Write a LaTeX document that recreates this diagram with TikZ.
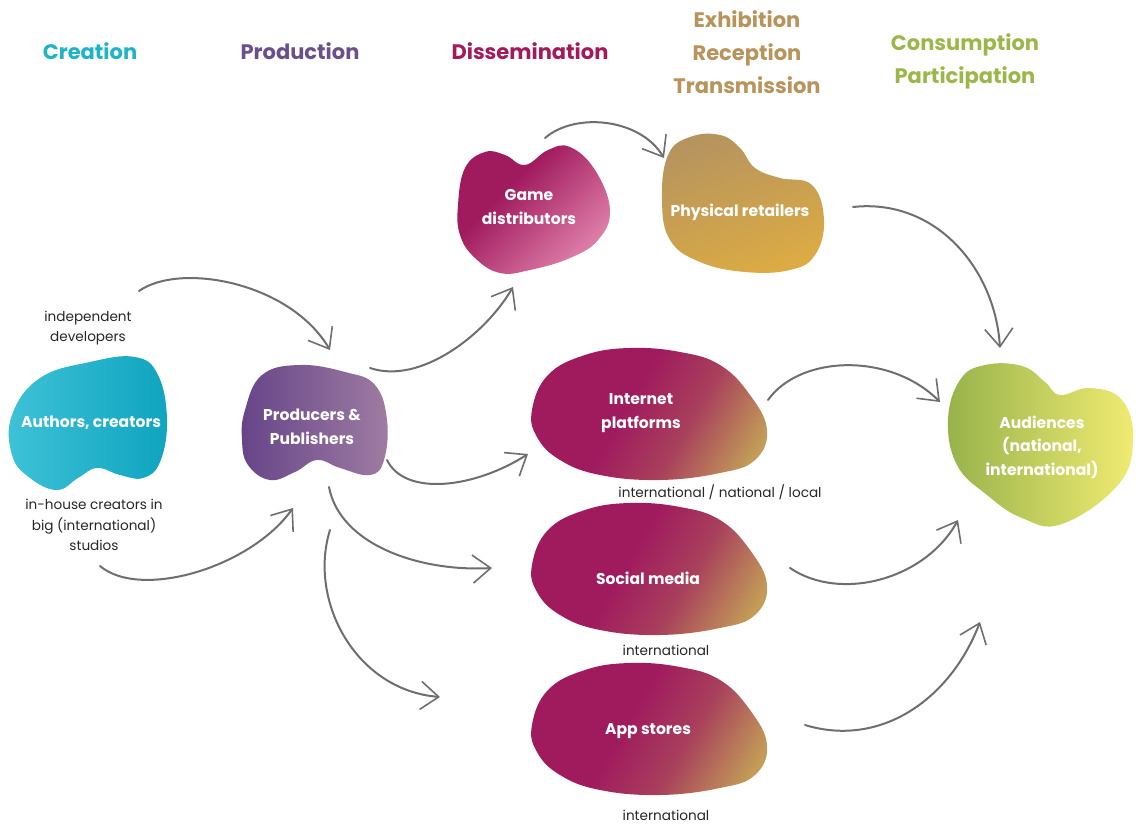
\documentclass[tikz,border=0pt]{standalone}
\usepackage{fontspec}
\setmainfont{Poppins}
\usetikzlibrary{arrows.meta}
\definecolor{cteal}{HTML}{1FB3C8}
\definecolor{cpurple}{HTML}{6B4E8C}
\definecolor{cmag}{HTML}{A3195B}
\definecolor{ctan}{HTML}{B8935A}
\definecolor{cgreen}{HTML}{9AB84A}
\definecolor{arrowgrey}{HTML}{6E6E6E}
\definecolor{tealA}{HTML}{3EC2D8}
\definecolor{tealB}{HTML}{0FA4BF}
\definecolor{purA}{HTML}{674488}
\definecolor{purB}{HTML}{9E7CA2}
\definecolor{magA}{HTML}{A01A5E}
\definecolor{magM}{HTML}{A8405C}
\definecolor{magB}{HTML}{C29C58}
\definecolor{pinkB}{HTML}{DC7BA6}
\definecolor{goldA}{HTML}{B6945E}
\definecolor{goldB}{HTML}{DCAB44}
\definecolor{grnA}{HTML}{97B34B}
\definecolor{grnB}{HTML}{F0EB72}
\pgfdeclareverticalshading{magshade}{100bp}{color(0bp)=(magB); color(22bp)=(magB); color(40bp)=(magM); color(56bp)=(magA); color(100bp)=(magA)}
\pgfdeclareverticalshading{pinkshade}{100bp}{color(0bp)=(pinkB); color(28bp)=(pinkB); color(62bp)=(magA); color(100bp)=(magA)}
\tikzset{
  header/.style={font=\fontsize{10.5}{16.5}\selectfont\bfseries, align=center},
  blobtext/.style={text=white, font=\fontsize{7.8}{11.75}\selectfont\bfseries, align=center},
  smalllabel/.style={text=black!85, font=\fontsize{6.8}{10.2}\selectfont, align=center},
  flow/.style={draw=arrowgrey, line width=1pt, line cap=round, line join=round,
    -{Straight Barb[length=9pt,width=14pt,line width=0.8pt]}},
  blobline/.style={smooth cycle, tension=0.7}
}
\begin{document}
\begin{tikzpicture}[x=0.5pt,y=-0.5pt]
\useasboundingbox (0,0) rectangle (1146,828);

% headers
\node[header, text=cteal] (hcre) at (90,51) {Creation};
\node[header, text=cpurple] (hpro) at (300,51) {Production};
\node[header, text=cmag] (hdis) at (530,51) {Dissemination};
\node[header, text=ctan] (hexh) at (747,52) {Exhibition\\Reception\\Transmission};
\node[header, text=cgreen] (hcon) at (965,61) {Consumption\\Participation};

% blobs
\shade[left color=tealA, right color=tealB] plot[blobline] coordinates {
 (12,415) (40,378) (90,362) (135,357) (158,375) (167,420) (160,462) (143,478)
 (120,475) (97,468) (78,478) (57,490) (30,478) (12,455)};
\shade[left color=purA, right color=purB] plot[blobline] coordinates {
 (245,410) (262,375) (300,365) (345,372) (375,385) (387,420) (384,460) (370,475)
 (340,468) (317,460) (295,472) (270,480) (248,465) (242,440)};
\shade[shading=pinkshade, shading angle=45] plot[blobline] coordinates {
 (458,205) (465,168) (485,152) (505,155) (525,165) (548,150) (570,147) (595,170)
 (610,210) (598,240) (570,258) (530,270) (500,273) (475,258) (460,235)};
\shade[top color=goldA, bottom color=goldB, shading angle=20] plot[blobline] coordinates {
 (662,200) (668,155) (690,137) (720,135) (740,148) (755,168) (780,178) (812,185)
 (824,220) (815,255) (790,270) (745,272) (700,262) (670,240)};
\foreach \dy in {0,155,315}{
\begin{scope}[shift={(0,\dy)}]
\shade[shading=magshade, shading angle=60] plot[blobline] coordinates {
 (532,410) (548,375) (585,355) (630,348) (680,352) (720,365) (750,395) (767,430)
 (755,460) (720,473) (660,480) (600,475) (560,460) (537,437)};
\end{scope}}
\shade[left color=grnA, right color=grnB] plot[blobline] coordinates {
 (948,420) (960,380) (985,365) (1022,366) (1045,382) (1060,395) (1090,388) (1122,400)
 (1133,440) (1118,485) (1062,524) (1022,518) (987,495) (957,465)};

% blob labels
\node[blobtext] (auth) at (91,423) {Authors, creators};
\node[blobtext] (prod) at (312,427) {Producers \&\\Publishers};
\node[blobtext] (game) at (529,207) {Game\\distributors};
\node[blobtext] (phys) at (740,212) {Physical retailers};
\node[blobtext] (inet) at (641,413) {Internet\\platforms};
\node[blobtext] (soc) at (648,578) {Social media};
\node[blobtext] (app) at (648,731) {App stores};
\node[blobtext] (aud) at (1042,447) {Audiences\\(national,\\international)};

% small labels
\node[smalllabel] (lind) at (88,328) {independent\\developers};
\node[smalllabel] (linh) at (94,525) {in-house creators in\\big (international)\\studios};
\node[smalllabel] (linet) at (720,492) {international / national / local};
\node[smalllabel] (lsoc) at (666,650) {international};
\node[smalllabel] (lapp) at (666,815) {international};

% connector end points
\coordinate (a1s) at (139,291); \coordinate (a1e) at (330,350);
\coordinate (a2s) at (100,566); \coordinate (a2e) at (293,508);
\coordinate (a3s) at (370,368); \coordinate (a3e) at (513,287);
\coordinate (a4s) at (387,460); \coordinate (a4e) at (528,454);
\coordinate (a5s) at (329,487); \coordinate (a5e) at (492,568);
\coordinate (a6s) at (330,530); \coordinate (a6e) at (440,697);
\coordinate (a7s) at (545,138); \coordinate (a7e) at (664,158);
\coordinate (a8s) at (853,207); \coordinate (a8e) at (1000,348);
\coordinate (a9s) at (768,400); \coordinate (a9e) at (940,402);
\coordinate (a10s) at (790,568); \coordinate (a10e) at (958,520);
\coordinate (a11s) at (805,725); \coordinate (a11e) at (980,622);

% connectors
\draw[flow] (a1s) .. controls (180,262) and (290,282) .. (a1e);
\draw[flow] (a2s) .. controls (140,600) and (250,568) .. (a2e);
\draw[flow] (a3s) .. controls (420,385) and (485,335) .. (a3e);
\draw[flow] (a4s) .. controls (405,497) and (475,488) .. (a4e);
\draw[flow] (a5s) .. controls (340,545) and (420,572) .. (a5e);
\draw[flow] (a6s) .. controls (308,600) and (355,690) .. (a6e);
\draw[flow] (a7s) .. controls (575,112) and (640,118) .. (a7e);
\draw[flow] (a8s) .. controls (935,198) and (995,268) .. (a8e);
\draw[flow] (a9s) .. controls (800,355) and (890,352) .. (a9e);
\draw[flow] (a10s) .. controls (840,602) and (925,580) .. (a10e);
\draw[flow] (a11s) .. controls (880,748) and (950,700) .. (a11e);
\end{tikzpicture}
\end{document}
